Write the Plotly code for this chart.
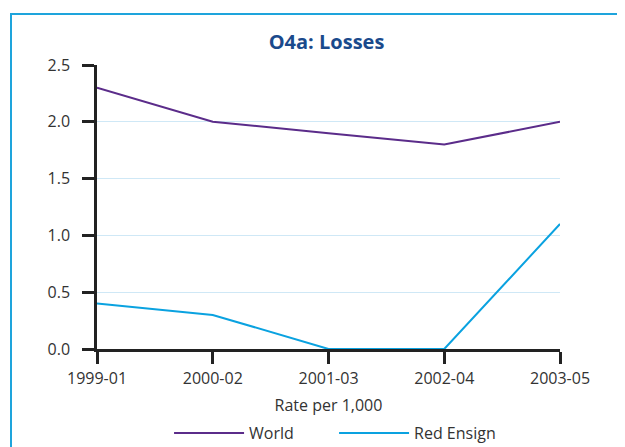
import plotly.graph_objects as go

periods = ["1999-01", "2000-02", "2001-03", "2002-04", "2003-05"]
world = [2.3, 2.0, 1.9, 1.8, 2.0]
red_ensign = [0.4, 0.3, 0.0, 0.0, 1.1]

# page has an 8px body margin, so everything is placed 8px up/left
W, H = 625, 447
L, T = 89, 57
pw, ph = 463, 284
R, B = W - L - pw, H - T - ph

fig = go.Figure()
fig.add_trace(go.Scatter(x=periods, y=world, mode="lines", name="World",
                         line=dict(color="#5b2c8a", width=2)))
fig.add_trace(go.Scatter(x=periods, y=red_ensign, mode="lines", name="Red Ensign",
                         line=dict(color="#0aa2e0", width=2)))

# cyan frame round the chart
fig.add_shape(type="rect", xref="paper", yref="paper", layer="below",
              x0=(3 - L) / pw, x1=(W + 20 - L) / pw,
              y0=-(H + 20 - (T + ph)) / ph, y1=1 + (T - 6) / ph,
              line=dict(color="#1ea4dc", width=2))

fig.update_layout(
    width=W, height=H,
    margin=dict(l=L, r=R, t=T, b=B, autoexpand=False),
    paper_bgcolor="white", plot_bgcolor="white",
    font=dict(family="Open Sans, Lato, sans-serif", size=16, color="#333333"),
    title=dict(text="<b>O4a: Losses</b>", x=(318.5 - L) / pw, xref="paper", xanchor="center",
               y=1 - 34 / H, yanchor="middle",
               font=dict(family="Open Sans, sans-serif", size=20, color="#1a4a8c")),
    showlegend=True,
    legend=dict(orientation="h", x=0.512, xanchor="center",
                yref="container", y=1 - 425 / H, yanchor="middle",
                itemwidth=70, entrywidth=80, entrywidthmode="pixels",
                font=dict(size=16), bgcolor="rgba(0,0,0,0)"),
    xaxis=dict(type="category", range=[0, 4], showgrid=False,
               showline=True, linecolor="#222222", linewidth=2.5,
               ticks="outside", ticklen=12, tickwidth=2.5, tickcolor="#222222",
               ticklabelstandoff=1,
               title=dict(text="Rate per 1,000", standoff=19, font=dict(size=16))),
    yaxis=dict(range=[0, 2.5], dtick=0.5, tickformat=".1f", zeroline=False,
               showgrid=True, gridcolor="#cfe8f6", gridwidth=1,
               showline=True, linecolor="#222222", linewidth=2.5,
               ticks="outside", ticklen=12, tickwidth=2.5, tickcolor="#222222",
               ticklabelstandoff=9),
)

fig.write_html("out.html")
